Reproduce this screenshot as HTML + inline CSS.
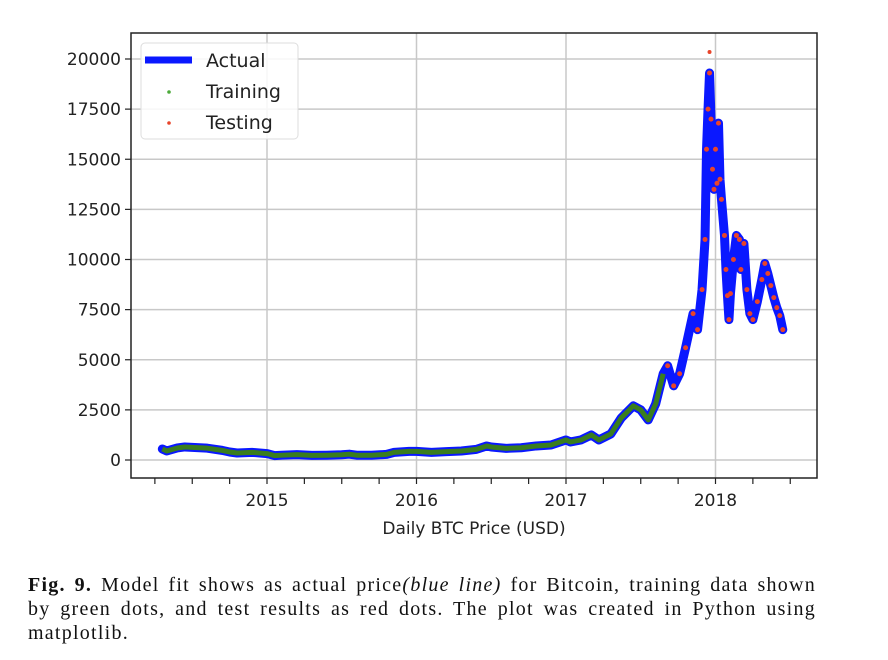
<!DOCTYPE html>
<html><head><meta charset="utf-8"><style>
body{margin:0;background:#fff;width:888px;height:660px;overflow:hidden}
#cap{position:absolute;left:28px;top:573px;width:788px;font:20px/24px "Liberation Serif",serif;color:#111;letter-spacing:1.25px}
#cap span{display:block;text-align:justify;text-align-last:justify;white-space:nowrap}
#cap span.last{text-align-last:left}
</style></head><body>
<svg id="chart" width="888" height="560" style="position:absolute;left:0;top:0" font-family="DejaVu Sans, Liberation Sans, sans-serif"></svg>
<div id="cap"><span><b>Fig. 9.</b> Model fit shows as actual price<i>(blue line)</i> for Bitcoin, training data shown</span><span>by green dots, and test results as red dots. The plot was created in Python using</span><span class="last">matplotlib.</span></div>
<script>
const dates=[2014.30,2014.33,2014.40,2014.45,2014.50,2014.60,2014.70,2014.75,2014.80,2014.90,2015.00,2015.05,2015.10,2015.20,2015.30,2015.40,2015.50,2015.55,2015.60,2015.70,2015.80,2015.85,2015.95,2016.00,2016.10,2016.20,2016.30,2016.40,2016.47,2016.50,2016.60,2016.70,2016.80,2016.90,2017.00,2017.03,2017.10,2017.17,2017.22,2017.30,2017.37,2017.45,2017.50,2017.55,2017.60,2017.65,2017.68,2017.72,2017.76,2017.80,2017.85,2017.88,2017.91,2017.93,2017.94,2017.95,2017.96,2017.97,2017.98,2017.99,2018.00,2018.01,2018.02,2018.03,2018.04,2018.06,2018.07,2018.08,2018.09,2018.10,2018.12,2018.14,2018.16,2018.17,2018.19,2018.21,2018.23,2018.25,2018.28,2018.31,2018.33,2018.35,2018.37,2018.39,2018.41,2018.43,2018.45];
const prices=[550,450,600,650,630,590,480,400,350,380,320,220,240,270,230,240,260,290,240,235,280,380,430,430,380,420,450,530,700,650,580,610,700,750,1000,900,1000,1250,1000,1300,2100,2700,2500,2000,2800,4300,4700,3700,4300,5600,7300,6500,8500,11000,15500,17500,19300,17000,14500,13500,15500,13800,16800,14000,13000,11200,9500,8200,7000,8300,10000,11200,11000,9500,10800,8500,7300,7000,7900,9000,9800,9300,8700,8100,7600,7200,6500];
const splitDate=2017.66;
const yTicks=[0,2500,5000,7500,10000,12500,15000,17500,20000];
const xTickLabels=["2015","2016","2017","2018"];
const xTickYears=[2015,2016,2017,2018];
const L=131,R=817,T=33,B=478;
const X=d=>267+(d-2015)*149.5, Y=v=>460-v*(401/20000);
const s=document.getElementById('chart'),NS='http://www.w3.org/2000/svg';
function el(t,a,p){const e=document.createElementNS(NS,t);for(const k in a)e.setAttribute(k,a[k]);(p||s).appendChild(e);return e;}
yTicks.forEach(v=>{const g=el('line',{x1:L,x2:R,y1:Y(v),y2:Y(v),stroke:'#c8c8c8','stroke-width':1.5});

el('line',{x1:L-6,x2:L,y1:Y(v),y2:Y(v),stroke:'#222','stroke-width':1.2});
const t=el('text',{x:L-10,y:Y(v)+6,'text-anchor':'end','font-size':17,fill:'#222'});t.textContent=v;
});
for(let q=2014.25;q<=2018.75;q+=0.25){const x=X(q);if(x<L||x>R)continue;
el('line',{x1:x,x2:x,y1:B,y2:B+6,stroke:'#222','stroke-width':1.2});}
xTickYears.forEach((yr,i)=>{const g=el('line',{x1:X(yr),x2:X(yr),y1:T,y2:B,stroke:'#c8c8c8','stroke-width':1.5});

const t=el('text',{x:X(yr),y:B+28,'text-anchor':'middle','font-size':17,fill:'#222'});t.textContent=xTickLabels[i];
});
const pts=dates.map((d,i)=>X(d)+','+Y(prices[i])).join(' ');
const line=el('polyline',{points:pts,fill:'none',stroke:'#0a18ff','stroke-width':9,'stroke-linejoin':'round','stroke-linecap':'round'});

const tr=dates.map((d,i)=>[d,prices[i]]).filter(p=>p[0]<splitDate);
const trl=el('polyline',{points:tr.map(p=>X(p[0])+','+Y(p[1])).join(' '),fill:'none',stroke:'#3a7d1e','stroke-width':5,'stroke-linejoin':'round'});

dates.forEach((d,i)=>{if(d<splitDate)return;const c=el('circle',{cx:X(d),cy:Y(prices[i]),r:2.5,fill:'#e8442a'});
});
const pk=el('circle',{cx:X(2017.96),cy:Y(20350),r:2,fill:'#e8442a'});

el('rect',{x:L,y:T,width:R-L,height:B-T,fill:'none',stroke:'#222','stroke-width':1.5});
const xl=el('text',{x:474,y:534,'text-anchor':'middle','font-size':17,fill:'#222'});xl.textContent='Daily BTC Price (USD)';

const lg=el('g',{});
el('rect',{x:141,y:43,width:157,height:96,rx:4,fill:'#fff','fill-opacity':0.85,stroke:'#ddd'},lg);
el('line',{x1:145,x2:192,y1:60,y2:60,stroke:'#0a18ff','stroke-width':7},lg);
el('circle',{cx:169,cy:92,r:1.8,fill:'#4caa3a'},lg);
el('circle',{cx:169,cy:123,r:1.8,fill:'#e8442a'},lg);
[['Actual',67],['Training',98],['Testing',129]].forEach(a=>{const t=el('text',{x:206,y:a[1],'font-size':19,fill:'#222'},lg);t.textContent=a[0];
});
</script>
</body></html>
